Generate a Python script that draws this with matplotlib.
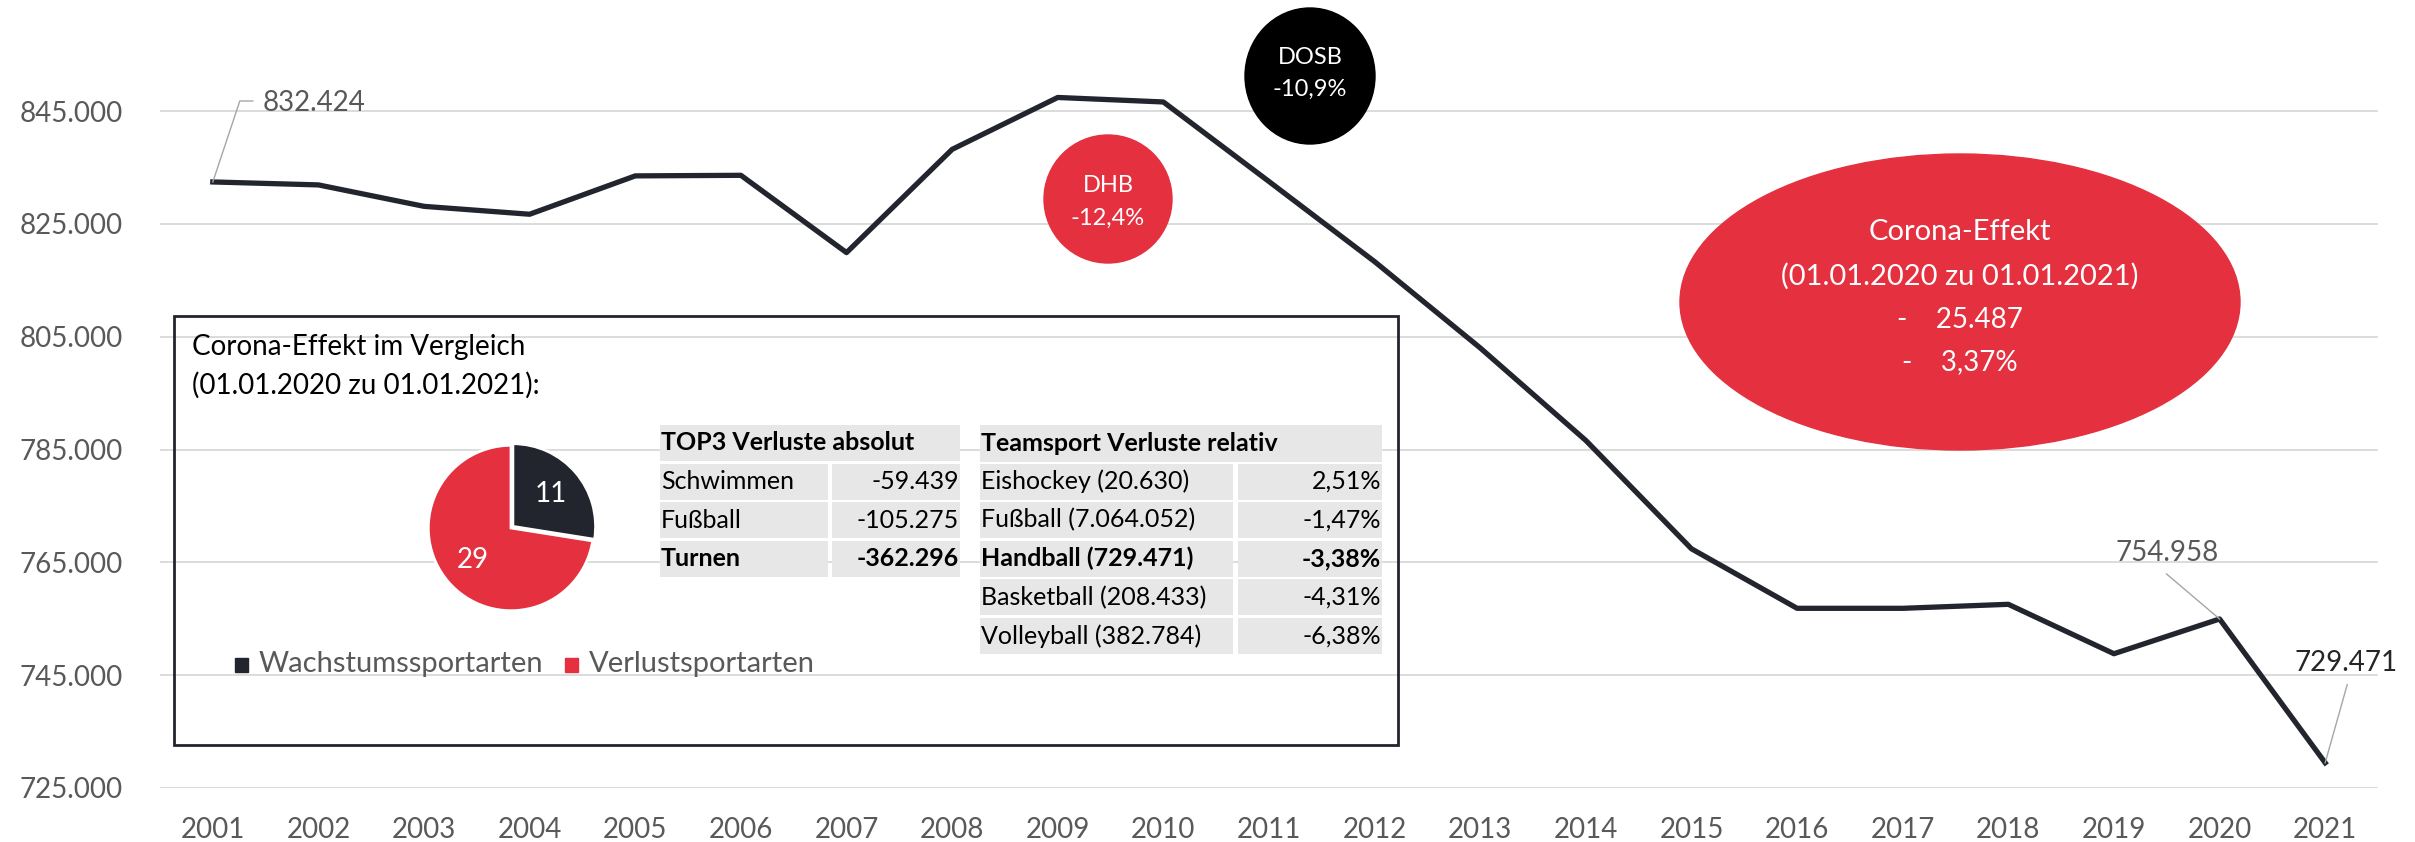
import matplotlib.pyplot as plt
from matplotlib.patches import Ellipse, Rectangle
from matplotlib.ticker import FuncFormatter

plt.rcParams['font.family'] = ['Lato', 'DejaVu Sans']

years = list(range(2001, 2022))
members = [832424, 831900, 828100, 826700, 833500, 833600, 819900, 838200,
           847400, 846600, 832500, 818300, 803000, 786600, 767400, 756850,
           756850, 757560, 748800, 754958, 729471]
yticks = [725000, 745000, 765000, 785000, 805000, 825000, 845000]

pie_labels = ['Wachstumssportarten', 'Verlustsportarten']
pie_values = [11, 29]

top3_header = 'TOP3 Verluste absolut'
top3_sports = ['Schwimmen', 'Fußball', 'Turnen']
top3_values = [-59439, -105275, -362296]

team_header = 'Teamsport Verluste relativ'
team_sports = ['Eishockey', 'Fußball', 'Handball', 'Basketball', 'Volleyball']
team_members = [20630, 7064052, 729471, 208433, 382784]
team_values = [2.51, -1.47, -3.38, -4.31, -6.38]

dosb_change = -10.9
dhb_change = -12.4
corona_abs = 25487
corona_pct = 3.37

DARK = '#22252E'
RED = '#E4303F'
GREY = '#595959'
CELL = '#E7E7E7'
W, H = 2415, 842


def de_int(v):
    return f"{v:,.0f}".replace(',', '.')


def de_pct(v, d=2):
    return f"{v:.{d}f}%".replace('.', ',')


fig = plt.figure(figsize=(W / 100, H / 100), dpi=100)
ax = fig.add_axes([160 / W, 1 - 788 / H, (2378 - 160) / W, 788 / H])
ax.plot(years, members, color=DARK, lw=3.8, zorder=3)
ax.set_xlim(2000.5, 2021.5)
ax.set_ylim(725000, 845000 + 111 / 677 * 120000)
ax.set_yticks(yticks)
ax.set_xticks(years)
ax.yaxis.set_major_formatter(FuncFormatter(lambda v, p: de_int(v)))
ax.grid(axis='y', color='#D9D9D9', lw=1.3)
ax.grid(axis='x', visible=False)
ax.set_axisbelow(True)
for s in ax.spines.values():
    s.set_visible(False)
ax.tick_params(length=0, labelsize=20, labelcolor=GREY)
ax.tick_params(axis='x', pad=21)
ax.tick_params(axis='y', pad=27)


def to_px(x, y):
    dx, dy = ax.transData.transform((x, y))
    return dx, H - dy


# overlay in figure pixels (origin top left)
ov = fig.add_axes([0, 0, 1, 1], zorder=5)
ov.set_xlim(0, W)
ov.set_ylim(H, 0)
ov.axis('off')
ov.patch.set_alpha(0)

# data labels
px, py = to_px(years[0], members[0])
ov.plot([px, px + 27, px + 40], [py, 101, 101], color='#A6A6A6', lw=1)
ov.text(px + 50, 103, de_int(members[0]), fontsize=20, color=GREY,
        ha='left', va='center')
px, py = to_px(years[-2], members[-2])
ov.plot([px - 53, px], [py - 45, py], color='#A6A6A6', lw=1)
ov.text(px - 52, 553, de_int(members[-2]), fontsize=20, color=GREY,
        ha='center', va='center')
px, py = to_px(years[-1], members[-1])
ov.plot([px + 22, px], [py - 78, py], color='#A6A6A6', lw=1)
ov.text(px + 21, 663, de_int(members[-1]), fontsize=20, color='#262626',
        ha='center', va='center')

# bubbles
ov.add_patch(Ellipse((1310, 76), 130, 136, color='black', zorder=4))
ov.text(1310, 58, 'DOSB', color='white', fontsize=17, ha='center', va='center',
        zorder=5)
ov.text(1310, 89, de_pct(dosb_change, 1), color='white', fontsize=17,
        ha='center', va='center', zorder=5)
ov.add_patch(Ellipse((1108, 199), 128, 128, color=RED, zorder=4))
ov.text(1108, 185, 'DHB', color='white', fontsize=17, ha='center', va='center',
        zorder=5)
ov.text(1108, 218, de_pct(dhb_change, 1), color='white', fontsize=17,
        ha='center', va='center', zorder=5)
ov.add_patch(Ellipse((1960, 302), 560, 296, color=RED, zorder=4))
corona_lines = ['Corona-Effekt', '(01.01.2020 zu 01.01.2021)',
                '-    ' + de_int(corona_abs), '-    ' + de_pct(corona_pct)]
for yy, s in zip([232, 276, 320, 362], corona_lines):
    ov.text(1960, yy, s, color='white', fontsize=21 if yy < 300 else 20,
            ha='center', va='center', zorder=5)

# inset box
ov.add_patch(Rectangle((174, 316), 1224, 429, fill=False, edgecolor=DARK,
                       lw=2, zorder=3))
ov.text(192, 347, 'Corona-Effekt im Vergleich', fontsize=20, color='black',
        ha='left', va='center')
ov.text(192, 385, '(01.01.2020 zu 01.01.2021):', fontsize=20, color='black',
        ha='left', va='center')

# legend
for xs, col, lab in zip([235, 565], [DARK, RED], pie_labels):
    ov.add_patch(Rectangle((xs, 658), 13, 14, color=col))
    ov.text(xs + 24, 664, lab, fontsize=21, color=GREY, ha='left',
            va='center')


def cell(x0, x1, y0, h, text, ha, bold=False):
    ov.add_patch(Rectangle((x0, y0), x1 - x0, h, color=CELL, lw=0, zorder=2))
    tx = x0 + 1 if ha == 'left' else x1 - 1
    ov.text(tx, y0 + h / 2, text, fontsize=18, color='black', ha=ha,
            va='center', fontweight='bold' if bold else 'normal', zorder=3)


row_h, pitch, r0 = 36, 38.6, 463.5
cell(660, 960, 425, 36, top3_header, 'left', bold=True)
for i, (s, v) in enumerate(zip(top3_sports, top3_values)):
    y0 = r0 + i * pitch
    b = i == len(top3_sports) - 1
    cell(660, 828, y0, row_h, s, 'left', b)
    cell(832, 960, y0, row_h, de_int(v), 'right', b)

cell(980, 1382, 425, 37, team_header, 'left', bold=True)
for i, (s, m, v) in enumerate(zip(team_sports, team_members, team_values)):
    y0 = r0 + i * pitch
    b = s == 'Handball'
    cell(980, 1233, y0, row_h, f"{s} ({de_int(m)})", 'left', b)
    cell(1238, 1382, y0, row_h, de_pct(v), 'right', b)

# pie
pax = fig.add_axes([(511 - 86) / W, 1 - (528 + 86) / H, 172 / W, 172 / H], zorder=6)
pax.pie(pie_values, colors=[DARK, RED], startangle=90, counterclock=False,
        explode=[0.03, 0], wedgeprops=dict(edgecolor='white', linewidth=2),
        autopct=lambda p: f"{p * sum(pie_values) / 100:.0f}", pctdistance=0.6,
        textprops=dict(color='white', fontsize=20))
pax.set_xlim(-1.04, 1.04)
pax.set_ylim(-1.04, 1.04)

fig.savefig('out.png', dpi=100)
